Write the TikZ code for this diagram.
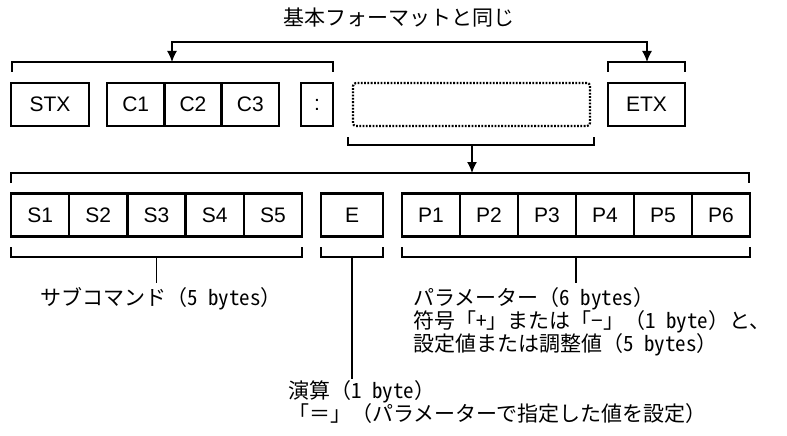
\documentclass[tikz,border=0pt]{standalone}
\usepackage{fontspec}
\setmainfont{Liberation Sans}
\newfontfamily\jp{Noto Sans CJK JP}
\newfontfamily\jphw[RawFeature=+hwid]{Noto Sans CJK JP}
\newcommand\hwtxt[1]{{\jphw #1}}
\usetikzlibrary{arrows.meta}
\tikzset{
  cell/.style={draw, line width=2.4pt, minimum height=43pt, inner sep=0pt,
    font=\fontsize{21}{24}\selectfont},
  dotbox/.style={draw, line width=2.2pt, dash pattern=on 1.8pt off 1.5pt,
    rounded corners=3pt, minimum height=43pt, inner sep=0pt},
  brk/.style={line width=1.4pt},
  tip/.style={-{Latex[length=11pt,width=10pt]}},
  jtext/.style={font=\jp\fontsize{21}{23}\selectfont, inner sep=0pt, anchor=base west},
}
\begin{document}
\begin{tikzpicture}[x=1pt,y=-1pt]
\useasboundingbox (0,0) rectangle (787,436);
% title
\node[jtext, anchor=base] (title) at (399,26) {基本フォーマットと同じ};
% row 1
\node[cell, minimum width=78pt] (stx) at (50,104.5) {STX};
\node[cell, minimum width=57.3pt] (c1) at (135.7,104.5) {C1};
\node[cell, minimum width=57.3pt] (c2) at (193,104.5) {C2};
\node[cell, minimum width=57.3pt] (c3) at (250.3,104.5) {C3};
\node[cell, minimum width=32pt] (colon) at (317,104.5) {:};
\node[dotbox, minimum width=237pt] (dots) at (471.5,104.5) {};
\node[cell, minimum width=77pt] (etx) at (646.5,104.5) {ETX};
% top brackets
\draw[brk] (12,72) |- (333,62) -- (333,72);
\draw[brk] (608,72) |- (685,62) -- (685,72);
\coordinate (bL) at (172,62);
\coordinate (bR) at (647,62);
\coordinate (aR) at (647,42);
\draw[brk, {Latex[length=11pt,width=10pt]}-{Latex[length=11pt,width=10pt]}] (bL) |- (aR) -- (bR);
% bracket under dotted box
\draw[brk] (348,137) |- (594,145) -- (594,137);
\coordinate (dB) at (472,145);
\coordinate (rT) at (472,173);
\draw[brk, tip] (dB) -- (rT);
% row 2 bracket
\draw[brk] (11,183) |- (749,173) -- (749,183);
% row 2
\node[cell, minimum width=58.2pt] (s1) at (40.1,215) {S1};
\node[cell, minimum width=58.2pt] (s2) at (98.3,215) {S2};
\node[cell, minimum width=58.2pt] (s3) at (156.5,215) {S3};
\node[cell, minimum width=58.2pt] (s4) at (214.7,215) {S4};
\node[cell, minimum width=58.2pt] (s5) at (272.9,215) {S5};
\node[cell, minimum width=62pt] (e) at (352,215) {E};
\node[cell, minimum width=58pt] (p1) at (431,215) {P1};
\node[cell, minimum width=58pt] (p2) at (489,215) {P2};
\node[cell, minimum width=58pt] (p3) at (547,215) {P3};
\node[cell, minimum width=58pt] (p4) at (605,215) {P4};
\node[cell, minimum width=58pt] (p5) at (663,215) {P5};
\node[cell, minimum width=58pt] (p6) at (721,215) {P6};
% bottom brackets
\draw[brk] (11,247) |- (302,257) -- (302,247);
\draw[brk] (321,247) |- (383,257) -- (383,247);
\draw[brk] (402,247) |- (750,257) -- (750,247);
% texts
\node[jtext] (sub) at (40,305) {サブコマンド（\hwtxt{5 bytes}）};
\node[jtext] (par1) at (413,305) {パラメーター（\hwtxt{6 bytes}）};
\node[jtext] (par2) at (413,328) {符号「\hwtxt{+}」または「\hwtxt{−}」（\hwtxt{1 byte}）と、};
\node[jtext] (par3) at (413,351) {設定値または調整値（\hwtxt{5 bytes}）};
\node[jtext] (op1) at (288,398) {演算（\hwtxt{1 byte}）};
\node[jtext] (op2) at (288,421) {「＝」（パラメーターで指定した値を設定）};
% stems
\coordinate (sS) at (156.5,257);
\coordinate (sE) at (352,257);
\coordinate (sP) at (576,257);
\draw[brk] (sS) -- (156.5,283);
\draw[brk] (sE) -- (352,379);
\draw[brk] (sP) -- (576,283);
\end{tikzpicture}
\end{document}
